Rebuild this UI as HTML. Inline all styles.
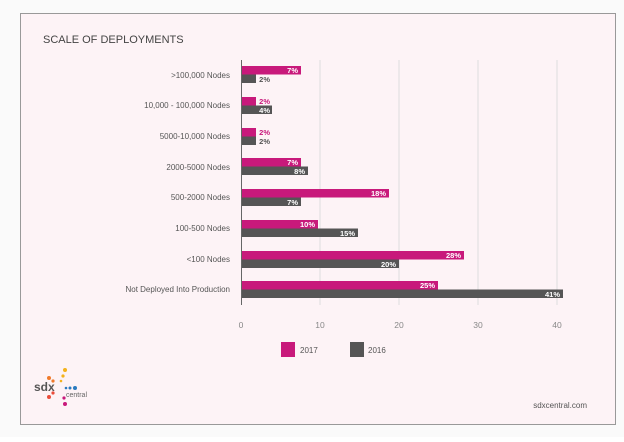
<!DOCTYPE html>
<html><head><meta charset="utf-8"><style>
body{margin:0;width:624px;height:437px;background:#fff;overflow:hidden;font-family:"Liberation Sans",sans-serif}
</style></head><body>
<svg width="624" height="437" xmlns="http://www.w3.org/2000/svg" font-family="Liberation Sans, sans-serif">
<rect x="0" y="0" width="624" height="437" fill="#fafafa"/>
<rect x="20.5" y="13.5" width="595" height="411" fill="#fdf3f6" stroke="#999" stroke-width="1"/>
<text x="43" y="43" font-size="11" fill="#444">SCALE OF DEPLOYMENTS</text>
<g stroke="#ddd" stroke-width="1">
<line x1="320" y1="60" x2="320" y2="305"/><line x1="399" y1="60" x2="399" y2="305"/>
<line x1="478" y1="60" x2="478" y2="305"/><line x1="557" y1="60" x2="557" y2="305"/>
</g>
<line x1="241.5" y1="60" x2="241.5" y2="305" stroke="#666"/>
<g font-size="8.5" fill="#888" text-anchor="middle">
<text x="241" y="328">0</text><text x="320" y="328">10</text><text x="399" y="328">20</text><text x="478" y="328">30</text><text x="557" y="328">40</text>
</g>
<g font-size="8" fill="#555" text-anchor="end">
<text x="230" y="78">&gt;100,000 Nodes</text>
<text x="230" y="108">10,000 - 100,000 Nodes</text>
<text x="230" y="139">5000-10,000 Nodes</text>
<text x="230" y="170">2000-5000 Nodes</text>
<text x="230" y="200">500-2000 Nodes</text>
<text x="230" y="231">100-500 Nodes</text>
<text x="230" y="262">&lt;100 Nodes</text>
<text x="230" y="292">Not Deployed Into Production</text>
</g>
<g font-size="7.5" font-weight="bold" fill="#fff" text-anchor="end">
<rect x="242" y="66" width="59" height="8.5" fill="#c8197b"/><text x="298" y="73">7%</text>
<rect x="242" y="74.5" width="14" height="8.5" fill="#555"/><text x="270" y="82" fill="#555">2%</text>
<rect x="242" y="97" width="14" height="8.5" fill="#c8197b"/><text x="270" y="104" fill="#c8197b">2%</text>
<rect x="242" y="105.5" width="30" height="8.5" fill="#555"/><text x="270" y="113">4%</text>
<rect x="242" y="128" width="14" height="8.5" fill="#c8197b"/><text x="270" y="135" fill="#c8197b">2%</text>
<rect x="242" y="136.5" width="14" height="8.5" fill="#555"/><text x="270" y="144" fill="#555">2%</text>
<rect x="242" y="158" width="59" height="8.5" fill="#c8197b"/><text x="298" y="165">7%</text>
<rect x="242" y="166.5" width="66" height="8.5" fill="#555"/><text x="305" y="174">8%</text>
<rect x="242" y="189" width="147" height="8.5" fill="#c8197b"/><text x="386" y="196">18%</text>
<rect x="242" y="197.5" width="59" height="8.5" fill="#555"/><text x="298" y="205">7%</text>
<rect x="242" y="220" width="76" height="8.5" fill="#c8197b"/><text x="315" y="227">10%</text>
<rect x="242" y="228.5" width="116" height="8.5" fill="#555"/><text x="355" y="236">15%</text>
<rect x="242" y="251" width="222" height="8.5" fill="#c8197b"/><text x="461" y="258">28%</text>
<rect x="242" y="259.5" width="157" height="8.5" fill="#555"/><text x="396" y="267">20%</text>
<rect x="242" y="281" width="196" height="8.5" fill="#c8197b"/><text x="435" y="288">25%</text>
<rect x="242" y="289.5" width="321" height="8.5" fill="#555"/><text x="560" y="297">41%</text>
</g>
<rect x="281" y="342" width="14" height="15" fill="#c8197b"/>
<text x="300" y="353" font-size="8" fill="#555">2017</text>
<rect x="350" y="342" width="14" height="15" fill="#555"/>
<text x="368" y="353" font-size="8" fill="#555">2016</text>
<text x="34" y="391" font-size="12" font-weight="bold" fill="#555">sdx</text>
<g>
<circle cx="65" cy="370" r="2" fill="#f4b21b"/><circle cx="63" cy="376" r="1.6" fill="#f4b21b"/><circle cx="61" cy="381" r="1.3" fill="#f4b21b"/>
<circle cx="49" cy="378" r="2" fill="#f07a2b"/><circle cx="53" cy="381" r="1.6" fill="#f07a2b"/>
<circle cx="49" cy="397" r="2" fill="#ea4c3a"/><circle cx="53" cy="393" r="1.6" fill="#ea4c3a"/>
<circle cx="64" cy="398" r="1.6" fill="#c8197b"/><circle cx="65" cy="404" r="2" fill="#c8197b"/>
<circle cx="66" cy="388" r="1.3" fill="#2a7bc0"/><circle cx="70" cy="388" r="1.5" fill="#2a7bc0"/><circle cx="75" cy="388" r="2" fill="#2a7bc0"/>
</g>
<text x="66" y="397" font-size="7" fill="#666">central</text>
<text x="587" y="408" font-size="8" fill="#555" text-anchor="end">sdxcentral.com</text>
</svg>
</body></html>
